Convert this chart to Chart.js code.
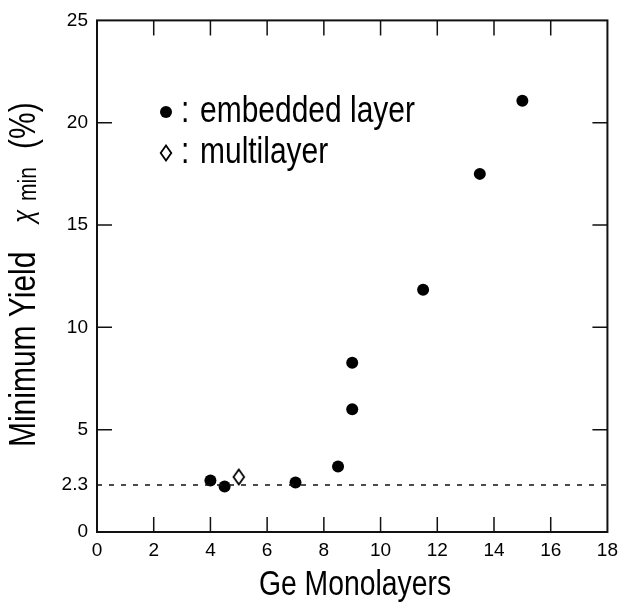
<!DOCTYPE html>
<html>
<head>
<meta charset="utf-8">
<script src="https://cdn.jsdelivr.net/npm/chart.js@4.4.0/dist/chart.umd.min.js"></script>
<style>
  html, body { margin: 0; padding: 0; background: #fff; }
  #wrap { width: 625px; height: 602px; }
</style>
</head>
<body>
<div id="wrap"><canvas id="chart" width="625" height="602"></canvas></div>
<script>
// data
const embeddedX = [4, 4.5, 7, 8.5, 9, 9, 11.5, 13.5, 15];
const embeddedY = [2.52, 2.22, 2.42, 3.2, 6.0, 8.27, 11.84, 17.5, 21.07];
const multiX = [5];
const multiY = [2.69];
const yTicks = [0, 2.3, 5, 10, 15, 20, 25];
const xTicks = [0, 2, 4, 6, 8, 10, 12, 14, 16, 18];
const baseline = 2.3;

const SANS = '"Liberation Sans", Arial, sans-serif';
const SQUEEZE = 0.81; // the original lettering is a condensed Helvetica

// open diamond marker, a bit taller than wide
function makeDiamond() {
    const c = document.createElement('canvas');
    c.width = 14; c.height = 18;
    const g = c.getContext('2d');
    g.strokeStyle = '#000';
    g.lineWidth = 1.8;
    g.beginPath();
    g.moveTo(7, 1.5);
    g.lineTo(12.3, 9);
    g.lineTo(7, 16.5);
    g.lineTo(1.7, 9);
    g.closePath();
    g.stroke();
    return c;
}
const diamond = makeDiamond();

// condensed text: squeeze along the writing direction
function narrowText(ctx, txt, x, y, font, align) {
    ctx.save();
    ctx.font = font;
    ctx.translate(x, y);
    ctx.scale(SQUEEZE, 1);
    let dx = 0;
    if (align === 'center') dx = -ctx.measureText(txt).width / 2;
    ctx.fillText(txt, dx, 0);
    ctx.restore();
}

// frame, inward ticks, dashed 2.3 line, legend and axis titles
const framePlugin = {
    id: 'frame',
    afterDraw(chart) {
        const ctx = chart.ctx;
        const a = chart.chartArea;
        const xs = chart.scales.x, ys = chart.scales.y;
        const tl = 15;
        ctx.save();
        ctx.strokeStyle = '#111';
        ctx.lineWidth = 1.5;
        ctx.beginPath();
        xTicks.slice(1, -1).forEach(v => {
            const px = xs.getPixelForValue(v);
            ctx.moveTo(px, a.bottom); ctx.lineTo(px, a.bottom - tl);
            ctx.moveTo(px, a.top); ctx.lineTo(px, a.top + tl);
        });
        [5, 10, 15, 20].forEach(v => {
            const py = ys.getPixelForValue(v);
            ctx.moveTo(a.left, py); ctx.lineTo(a.left + tl, py);
            ctx.moveTo(a.right, py); ctx.lineTo(a.right - tl, py);
        });
        ctx.stroke();

        // dashed reference line
        const by = ys.getPixelForValue(baseline);
        ctx.setLineDash([5, 7]);
        ctx.beginPath();
        ctx.moveTo(a.left, by); ctx.lineTo(a.right, by);
        ctx.stroke();
        ctx.setLineDash([]);

        ctx.lineWidth = 2;
        ctx.strokeRect(a.left, a.top, a.right - a.left, a.bottom - a.top);

        // legend
        ctx.fillStyle = '#000';
        ctx.beginPath();
        ctx.arc(166, 112, 6, 0, Math.PI * 2);
        ctx.fill();
        ctx.drawImage(diamond, 166 - 7, 153 - 9);
        ctx.textBaseline = 'alphabetic';
        ctx.textAlign = 'left';
        const lf = '37px ' + SANS;
        narrowText(ctx, ':', 181, 122, lf);
        narrowText(ctx, 'embedded layer', 200, 122, lf);
        narrowText(ctx, ':', 181, 163, lf);
        narrowText(ctx, 'multilayer', 200, 163, lf);

        // x title
        narrowText(ctx, 'Ge Monolayers', 355, 595, '35px ' + SANS, 'center');

        // y title with subscript
        ctx.translate(35, 447);
        ctx.rotate(-Math.PI / 2);
        narrowText(ctx, 'Minimum Yield', 0, 0, '37px ' + SANS);
        narrowText(ctx, '\u03c7', 224, -2, 'italic 30px ' + SANS);
        narrowText(ctx, 'min', 246, 1, '26px ' + SANS);
        narrowText(ctx, '(%)', 298, 0, '37px ' + SANS);
        ctx.restore();
    }
};

new Chart(document.getElementById('chart'), {
    type: 'scatter',
    data: {
        datasets: [
            {
                label: 'embedded layer',
                data: embeddedX.map((x, i) => ({ x, y: embeddedY[i] })),
                pointStyle: 'circle',
                pointRadius: 6,
                backgroundColor: '#000',
                borderColor: '#000',
                borderWidth: 0
            },
            {
                label: 'multilayer',
                data: multiX.map((x, i) => ({ x, y: multiY[i] })),
                pointStyle: diamond,
                pointRadius: 7
            }
        ]
    },
    options: {
        responsive: false,
        animation: false,
        layout: { padding: { top: 19, right: 13, left: 0, bottom: 0 } },
        plugins: { legend: { display: false }, tooltip: { enabled: false } },
        scales: {
            x: {
                type: 'linear', min: 0, max: 18,
                afterBuildTicks: s => { s.ticks = xTicks.map(v => ({ value: v })); },
                afterFit: s => { s.height = 70; },
                grid: { display: false, drawTicks: false },
                border: { display: false },
                ticks: { color: '#000', padding: 7, font: { family: SANS, size: 19 } }
            },
            y: {
                type: 'linear', min: 0, max: 25,
                afterBuildTicks: s => { s.ticks = yTicks.map(v => ({ value: v })); },
                afterFit: s => { s.width = 97; },
                grid: { display: false, drawTicks: false },
                border: { display: false },
                ticks: { color: '#000', padding: 9, font: { family: SANS, size: 19 } }
            }
        }
    },
    plugins: [framePlugin]
});
</script>
</body>
</html>
